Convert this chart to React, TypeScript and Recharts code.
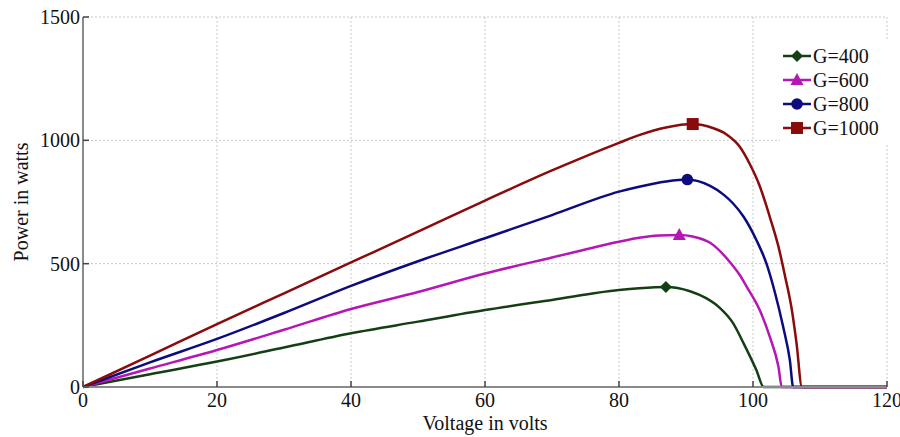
import React from 'react';
import { LineChart, Line, XAxis, YAxis, CartesianGrid, Legend } from 'recharts';

// voltage (V) / power (W) samples
const VOLT_400 = [0, 10, 20, 30, 40, 50, 60, 70, 80, 83, 87, 90.6, 93, 95, 97, 98.6, 100.5, 101.6, 120];
const POW_400 = [0, 52, 103, 160, 218, 265, 312, 353, 393, 400, 405, 388, 360, 322, 260, 177, 69, 0, 0];

const VOLT_600 = [0, 10, 20, 30, 40, 50, 60, 70, 80, 83, 86, 89, 91, 93.6, 96.6, 98, 99.05, 101, 102.5, 103.8, 104.3, 120];
const POW_600 = [0, 75, 150, 232, 316, 385, 460, 525, 589, 605, 614, 616, 610, 585, 505, 455, 407, 312, 204, 82, 0, 0];

const VOLT_800 = [0, 10, 20, 30, 40, 50, 60, 70, 80, 83, 87, 90.2, 93.6, 95.6, 97, 98.6, 100.5, 102, 103.3, 104.5, 105.5, 106, 120];
const POW_800 = [0, 100, 195, 300, 410, 510, 603, 697, 792, 812, 833, 841, 815, 780, 745, 690, 596, 501, 380, 244, 109, 0, 0];

const VOLT_1000 = [0, 10, 20, 30, 40, 50, 60, 70, 80, 83, 87, 91, 94, 96, 98, 99.5, 101, 102.5, 103.8, 104.8, 105.8, 106.5, 107.3, 120];
const POW_1000 = [0, 127, 255, 380, 505, 630, 756, 878, 990, 1021, 1052, 1066, 1050, 1025, 975, 905, 815, 690, 569, 447, 312, 177, 0, 0];

const X_TICKS = [0, 20, 40, 60, 80, 100, 120];
const Y_TICKS = [0, 500, 1000, 1500];

const FONT = '"Liberation Serif", "Times New Roman", serif';

type Marker = 'diamond' | 'triangle' | 'circle' | 'square';

const toRows = (v: number[], p: number[]) => v.map((x, i) => ({ v: x, p: p[i] }));

const SERIES = [
    { name: 'G=400', color: '#143f14', marker: 'diamond' as Marker, data: toRows(VOLT_400, POW_400) },
    { name: 'G=600', color: '#b517b5', marker: 'triangle' as Marker, data: toRows(VOLT_600, POW_600) },
    { name: 'G=800', color: '#0c0c7e', marker: 'circle' as Marker, data: toRows(VOLT_800, POW_800) },
    { name: 'G=1000', color: '#8a0b0b', marker: 'square' as Marker, data: toRows(VOLT_1000, POW_1000) },
];

const drawMarker = (kind: Marker, cx: number, cy: number, color: string, key?: any) => {
    switch (kind) {
        case 'diamond':
            return <polygon key={key} points={`${cx},${cy - 6} ${cx + 6},${cy} ${cx},${cy + 6} ${cx - 6},${cy}`} fill={color} />;
        case 'triangle':
            return <polygon key={key} points={`${cx},${cy - 7} ${cx + 6.5},${cy + 5} ${cx - 6.5},${cy + 5}`} fill={color} />;
        case 'circle':
            return <circle key={key} cx={cx} cy={cy} r={5.8} fill={color} />;
        default:
            return <rect key={key} x={cx - 6} y={cy - 6} width={12} height={12} fill={color} />;
    }
};

const LeftTick = (props: any) => {
    const { x, y, payload } = props;
    return (
        <g>
            <line x1={x + 3} x2={x + 9} y1={y} y2={y} stroke="#444" strokeWidth={1.5} />
            <text x={x} y={y} dy="0.35em" textAnchor="end" fontFamily={FONT} fontSize={20} fill="#111">
                {payload.value}
            </text>
        </g>
    );
};

const BottomTick = (props: any) => {
    const { x, y, payload } = props;
    return (
        <g>
            <line x1={x} x2={x} y1={y - 6} y2={y - 12} stroke="#444" strokeWidth={1.5} />
            <text x={x} y={y} dy="0.71em" textAnchor="middle" fontFamily={FONT} fontSize={20} fill="#111">
                {payload.value}
            </text>
        </g>
    );
};

const RightTick = (props: any) => {
    const { x, y } = props;
    return <line x1={x} x2={x - 6} y1={y} y2={y} stroke="#444" strokeWidth={1.5} />;
};

const TopTick = (props: any) => {
    const { x, y } = props;
    return <line x1={x} x2={x} y1={y} y2={y + 6} stroke="#444" strokeWidth={1.5} />;
};

const LegendBox = () => (
    <div style={{ background: '#fff', padding: '4px 4px 4px 2px', width: 102 }}>
        {SERIES.map((s) => (
            <div key={s.name} style={{ display: 'flex', alignItems: 'center', height: 24 }}>
                <svg width={30} height={20} style={{ flex: 'none' }}>
                    <line x1={1} x2={29} y1={10} y2={10} stroke={s.color} strokeWidth={2.5} />
                    {drawMarker(s.marker, 15, 10, s.color)}
                </svg>
                <span style={{ fontFamily: FONT, fontSize: 20, color: '#111', marginLeft: 1, lineHeight: '20px' }}>{s.name}</span>
            </div>
        ))}
    </div>
);

const App: React.FC = () => {
    return (
        <div style={{ position: 'absolute', left: 0, top: 0, background: '#fff' }}>
            <LineChart width={900} height={437} margin={{ top: 17, right: 13, bottom: 0, left: 0 }}>
                <CartesianGrid stroke="#c8c8c8" strokeDasharray="2 2" />
                <XAxis
                    dataKey="v"
                    type="number"
                    domain={[0, 120]}
                    ticks={X_TICKS}
                    height={50}
                    tickSize={0}
                    tickMargin={6}
                    tickLine={false}
                    tick={<BottomTick />}
                    axisLine={{ stroke: '#8a8a8a', strokeWidth: 2 }}
                    label={{ value: 'Voltage in volts', position: 'insideBottom', offset: 7, fontFamily: FONT, fontSize: 20, fill: '#111' }}
                />
                <XAxis
                    xAxisId="top"
                    orientation="top"
                    type="number"
                    domain={[0, 120]}
                    ticks={X_TICKS}
                    height={0}
                    tickSize={0}
                    tickLine={false}
                    tick={<TopTick />}
                    axisLine={{ stroke: '#8a8a8a', strokeWidth: 2 }}
                />
                <YAxis
                    type="number"
                    domain={[0, 1500]}
                    ticks={Y_TICKS}
                    width={83}
                    tickSize={0}
                    tickMargin={3}
                    tickLine={false}
                    tick={<LeftTick />}
                    axisLine={{ stroke: '#8a8a8a', strokeWidth: 2 }}
                    label={{ value: 'Power in watts', angle: -90, position: 'insideLeft', offset: 21, fontFamily: FONT, fontSize: 20, fill: '#111', style: { textAnchor: 'middle' } }}
                />
                <YAxis
                    yAxisId="right"
                    orientation="right"
                    type="number"
                    domain={[0, 1500]}
                    ticks={Y_TICKS}
                    width={0}
                    tickSize={0}
                    tickLine={false}
                    tick={<RightTick />}
                    axisLine={{ stroke: '#8a8a8a', strokeWidth: 2 }}
                />
                <Legend
                    layout="vertical"
                    align="center"
                    verticalAlign="middle"
                    content={<LegendBox />}
                    wrapperStyle={{ left: 780, top: 40, width: 108 }}
                />
                {SERIES.map((s) => {
                    const peak = s.data.reduce((best, row, i) => (row.p > s.data[best].p ? i : best), 0);
                    return (
                        <Line
                            key={s.name}
                            name={s.name}
                            data={s.data}
                            dataKey="p"
                            type="monotone"
                            stroke={s.color}
                            strokeWidth={2.5}
                            isAnimationActive={false}
                            dot={(props: any) =>
                                props.index === peak
                                    ? drawMarker(s.marker, props.cx, props.cy, s.color, `m-${props.index}`)
                                    : <g key={`d-${props.index}`} />
                            }
                            activeDot={false}
                        />
                    );
                })}
            </LineChart>
        </div>
    );
};

export default App;
